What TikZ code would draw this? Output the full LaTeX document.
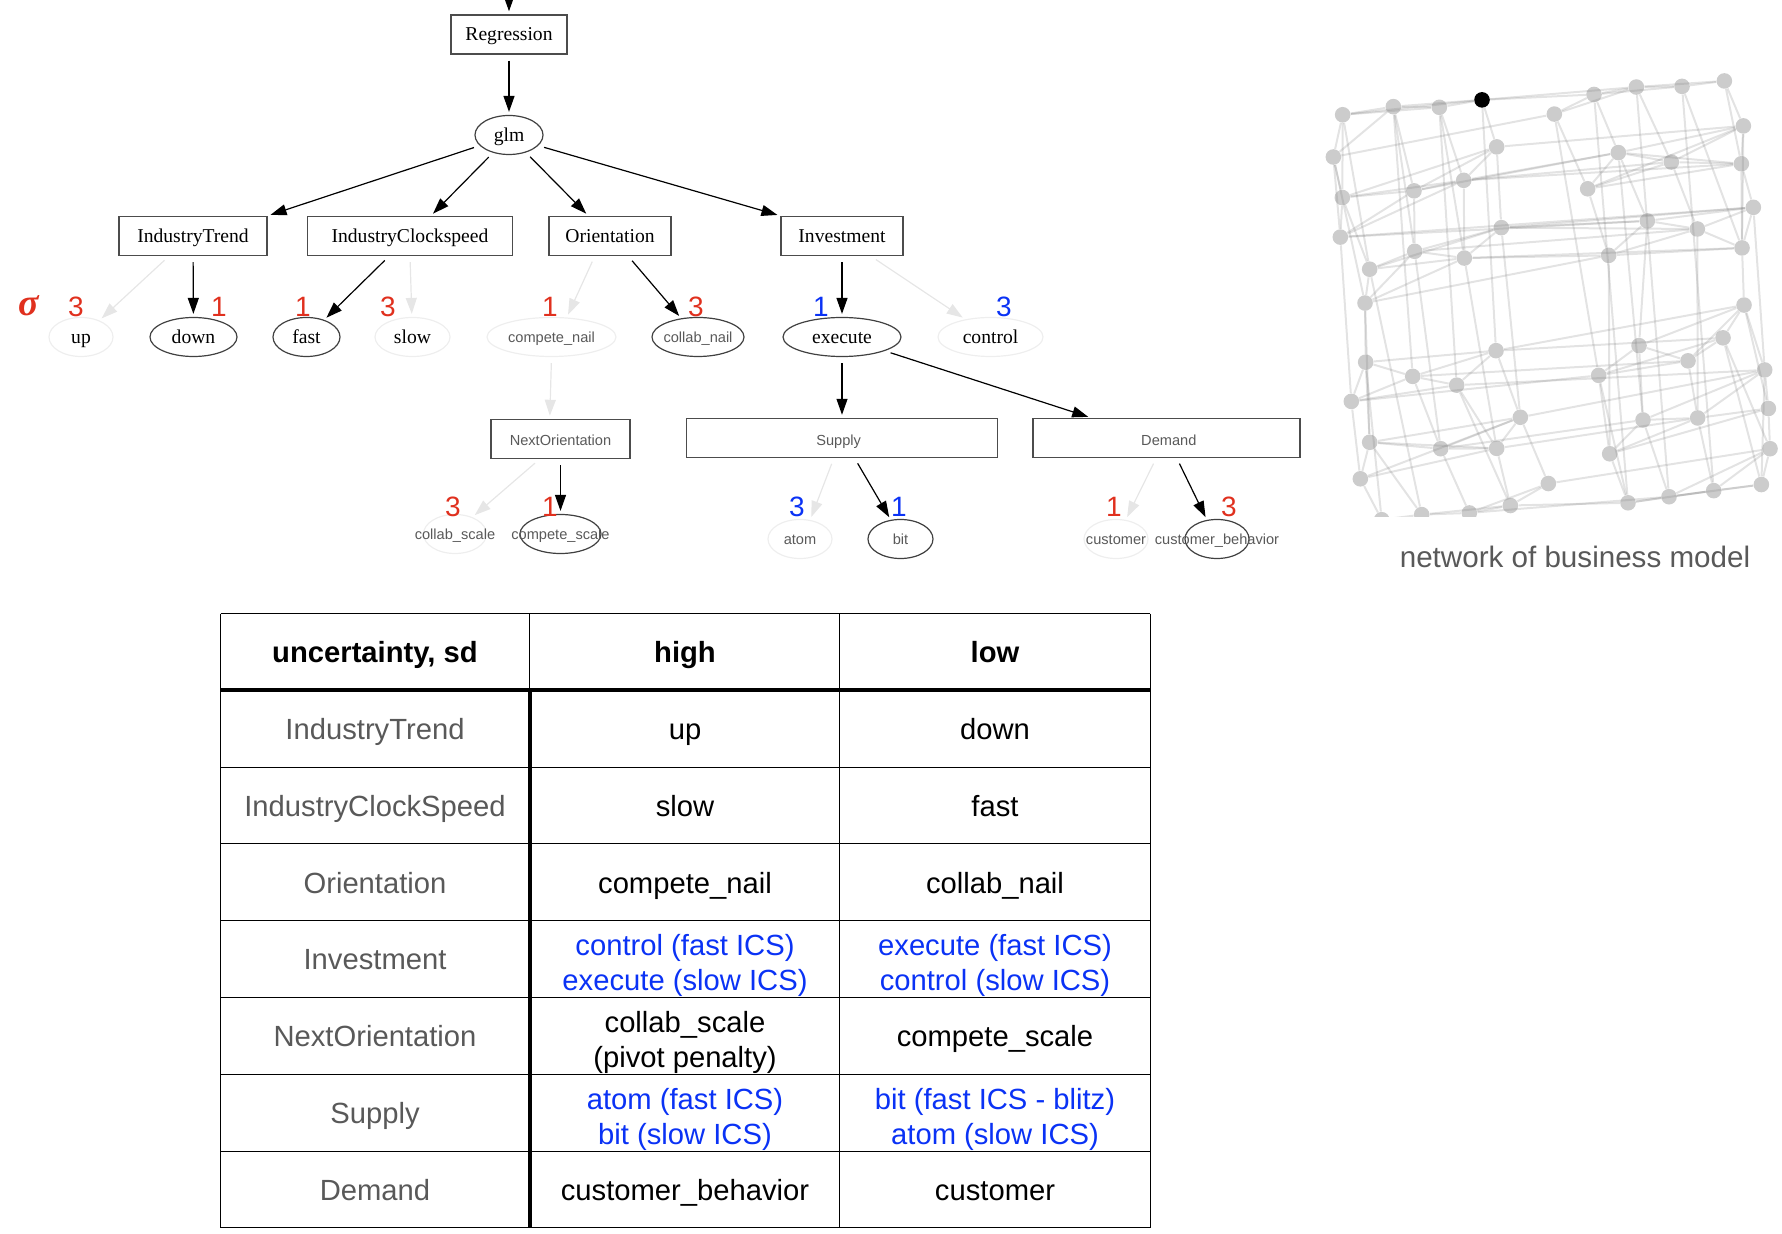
\documentclass[tikz,border=0pt]{standalone}
\usepackage{fontspec}
\setmainfont{Liberation Serif}
\setsansfont{Liberation Sans}
\usetikzlibrary{shapes.geometric, arrows.meta, positioning}
\definecolor{numred}{RGB}{224, 48, 30}
\definecolor{numblue}{RGB}{10, 50, 245}
\definecolor{headgray}{RGB}{89, 89, 89}
\definecolor{paleline}{RGB}{230, 230, 230}
\definecolor{paleoval}{RGB}{238, 238, 238}
\definecolor{netgray}{RGB}{204, 204, 204}
\newcommand{\tallrow}{\rule{0pt}{16.5pt}}
\begin{document}
\begin{tikzpicture}[
    x=0.5pt, y=-0.5pt,
    serifbig/.style={font=\fontsize{9.8}{11}\selectfont, text height=8.5pt, text depth=2pt},
    sanssmall/.style={font=\sffamily\fontsize{7.3}{9}\selectfont, text=headgray, text height=8pt, text depth=2pt},
    treebox/.style={draw=black!70, line width=0.7pt, inner sep=0pt, minimum height=19.5pt},
    oval/.style={ellipse, draw=#1, line width=0.6pt, inner sep=0pt, minimum height=19.5pt},
    oval/.default=black!75,
    link/.style={draw=#1, line width=0.6pt, shorten <=3pt, shorten >=1.5pt,
                 -{Triangle[length=8pt,width=5.5pt,fill=#1]}},
    link/.default=black,
    num/.style={text=#1, inner sep=0pt, font=\sffamily\fontsize{14}{14}\selectfont},
    cell/.style={text=#1, align=center, inner sep=0pt, font=\sffamily\fontsize{14.6}{17.5}\selectfont},
    cell/.default=black,
    gridline/.style={line width=0.5pt, draw=black},
    netnode/.style={circle, fill=netgray, inner sep=0pt, minimum size=7.8pt},
    netedge/.style={draw=gray, opacity=0.22, line width=1pt}
]
    \useasboundingbox (0,0) rectangle (1782,1234);

    \coordinate (topin) at (509,-4);
    \node[treebox, serifbig, minimum width=58pt] (regression) at (509,34.5) {Regression};
    \node[oval, serifbig, minimum width=34pt] (glm) at (509,135) {glm};

    \node[treebox, serifbig, minimum width=74pt] (trend) at (193,236) {IndustryTrend};
    \node[treebox, serifbig, minimum width=102.5pt] (clockspeed) at (410,236) {IndustryClockspeed};
    \node[treebox, serifbig, minimum width=61pt] (orientation) at (610,236) {Orientation};
    \node[treebox, serifbig, minimum width=61pt] (investment) at (842,236) {Investment};

    \node[oval=paleoval, serifbig, minimum width=32pt] (up) at (81,337) {up};
    \node[oval, serifbig, minimum width=43.5pt] (down) at (193.5,337) {down};
    \node[oval, serifbig, minimum width=33.5pt] (fast) at (306.5,337) {fast};
    \node[oval=paleoval, serifbig, minimum width=37.5pt] (slow) at (412.5,337) {slow};
    \node[oval=paleoval, sanssmall, minimum width=64.5pt] (competenail) at (551.5,337) {\makebox[0pt]{compete\_nail}};
    \node[oval, sanssmall, minimum width=46pt] (collabnail) at (698,337) {\makebox[0pt]{collab\_nail}};
    \node[oval, serifbig, minimum width=59pt] (execute) at (842,337) {execute};
    \node[oval=paleoval, serifbig, minimum width=52.5pt] (control) at (990.5,337) {control};

    \node[treebox, sanssmall, text height=9pt, minimum width=69.5pt] (nextorientation) at (560.5,439) {NextOrientation};
    \node[treebox, sanssmall, text height=9.5pt, minimum width=155.5pt] (supply) at (842,438) {\hspace*{-3.4pt}Supply};
    \node[treebox, sanssmall, text height=9.5pt, minimum width=133.5pt] (demand) at (1166.5,438) {\hspace*{2.3pt}Demand};

    \node[oval=paleoval, sanssmall, minimum width=31.5pt] (collabscale) at (455,534) {\makebox[0pt]{collab\_scale}};
    \node[oval, sanssmall, minimum width=40.5pt] (competescale) at (560.5,534) {\makebox[0pt]{compete\_scale}};
    \node[oval=paleoval, sanssmall, minimum width=32pt] (atom) at (800,539) {\makebox[0pt]{atom}};
    \node[oval, sanssmall, minimum width=32.5pt] (bit) at (900.5,539) {\makebox[0pt]{bit}};
    \node[oval=paleoval, sanssmall, minimum width=32pt] (customer) at (1116,539) {\makebox[0pt]{customer}};
    \node[oval, sanssmall, minimum width=32pt] (behavior) at (1217,539) {\makebox[0pt]{customer\_behavior}};

    \draw[link] (topin) -- (regression);
    \draw[link] (regression) -- (glm);
    \draw[link] (glm.200) -- (trend.north east);
    \draw[link] (glm.228) -- (clockspeed.44);
    \draw[link] (glm.314) -- (orientation.137);
    \draw[link] (glm.340) -- (investment.north west);
    \draw[link=paleline] (trend.220) -- (up.42);
    \draw[link] (trend) -- (down);
    \draw[link] (clockspeed.224) -- (fast.44);
    \draw[link=paleline] (clockspeed.south) -- (slow);
    \draw[link=paleline] (orientation.233) -- (competenail.52);
    \draw[link] (orientation.312) -- (collabnail.132);
    \draw[link] (investment) -- (execute);
    \draw[link=paleline] (investment.325) -- (control.145);
    \draw[link=paleline] (competenail.south) -- (nextorientation.118);
    \draw[link] (execute) -- (supply);
    \draw[link] (execute.342) -- (demand.165);
    \draw[link=paleline] (nextorientation.224) -- (collabscale.44);
    \draw[link] (nextorientation) -- (competescale);
    \draw[link=paleline] (supply.248) -- (atom.62);
    \draw[link] (supply.302) -- (bit.117);
    \draw[link=paleline] (demand.243) -- (customer.63);
    \draw[link] (demand.297) -- (behavior.118);

    \node[text=numred, inner sep=0pt, font=\itshape\bfseries\fontsize{19}{19}\selectfont] (sigma) at (29,306) {σ};
    \foreach \name/\ink/\xc/\yc/\val in {
        nup/numred/76/307/3, ndown/numred/219/307/1, nfast/numred/303/307/1, nslow/numred/388/307/3,
        ncompetenail/numred/550/307/1, ncollabnail/numred/696/307/3, nexecute/numblue/821/307/1,
        ncontrol/numblue/1004/307/3, ncollabscale/numred/453/507/3, ncompetescale/numred/550/507/1,
        natom/numblue/797/507/3, nbit/numblue/899/507/1, ncustomer/numred/1114/507/1, nbehavior/numred/1229/507/3}
        \node[num=\ink] (\name) at (\xc,\yc) {\val};

    \begin{scope}[shift={(655pt,-30pt)}, x=0.16667pt, y=-0.169pt]
        \clip (-100,-100) rectangle (1416,1350);
        \foreach \i/\xc/\yc in {
            1/98/162, 2/250/138, 3/388/140, 5/733/160, 6/852/102, 7/979/80, 8/1116/78, 9/1243/62,
            10/70/287, 11/560/257, 12/1300/195, 13/925/274, 14/1084/302, 15/1294/307,
            16/97/407, 17/312/387, 18/461/356, 19/833/381, 20/91/524, 21/574/496, 22/1012/476,
            23/1162/500, 24/1330/436, 25/314/566, 26/463/586, 27/179/619, 28/896/578, 29/1296/556,
            30/165/719, 31/1302/725, 32/558/860, 33/987/845, 34/1239/822, 35/167/894, 36/308/936,
            37/440/962, 38/866/933, 39/1134/890, 40/1364/917, 41/124/1010, 42/631/1057, 43/999/1065,
            44/1163/1059, 45/1375/1031, 46/179/1131, 47/392/1150, 48/560/1149, 49/899/1165,
            50/1380/1150, 51/151/1239, 52/715/1253, 53/1354/1256, 54/1211/1274, 55/1077/1292,
            56/954/1310, 57/601/1318, 58/478/1340, 59/335/1345, 60/215/1360}
            \node[netnode] (n\i) at (\xc,\yc) {};
        \node[netnode, fill=black] (n4) at (516,118) {};
        \foreach \a/\b in {
            1/2, 2/3, 3/4, 1/3, 2/4, 1/4, 4/6, 4/7, 5/6, 5/7, 6/7, 6/8, 7/8, 7/9, 8/9,
            1/10, 1/16, 1/27, 10/2, 10/5, 10/16, 10/20, 16/20, 10/30, 16/27,
            16/17, 16/18, 16/11, 17/18, 17/11, 18/11, 11/12, 17/13, 18/14, 18/15, 18/13,
            19/12, 19/13, 19/14, 19/15, 13/14, 13/15, 14/15, 13/12, 14/12,
            20/17, 20/18, 20/22, 20/24, 21/22, 21/23, 21/24, 22/23, 22/24, 23/24, 23/29,
            22/28, 23/28, 28/29, 26/29, 25/21, 25/26, 25/23, 26/21, 26/28, 27/25, 27/21, 27/26,
            30/25, 30/26, 30/28,
            2/17, 2/25, 2/36, 3/18, 3/37, 3/26, 4/11, 4/32, 11/21, 21/42, 18/26, 26/48, 17/25, 25/47,
            5/19, 5/38, 6/13, 6/56, 19/28, 28/49, 13/22, 13/43, 22/33, 7/14, 7/55, 14/23, 23/44,
            8/29, 8/54, 9/12, 9/15, 12/15, 15/29, 12/29, 24/29, 15/24, 29/31, 24/40, 31/40, 31/45,
            40/45, 45/50, 40/53, 50/53, 34/53, 34/50,
            20/41, 27/30, 30/35, 30/46, 27/59, 35/41, 35/46, 35/60, 41/51, 46/51, 51/60, 46/59,
            36/47, 47/58, 37/57, 37/48, 32/42, 42/52, 42/48, 48/57, 52/57, 52/58, 57/59, 58/59, 59/60,
            58/57, 57/56, 58/55, 56/55, 55/54, 54/53, 56/54, 55/53, 52/50, 51/42, 51/48,
            46/42, 46/47, 46/48, 47/42, 47/48, 47/43, 48/44, 42/40, 49/43, 49/44, 49/45, 43/44,
            43/40, 44/45, 44/40, 56/49, 43/55, 44/54, 54/50, 55/50,
            35/32, 35/36, 36/37, 36/32, 37/32, 41/36, 41/37, 41/38, 36/39, 37/40, 32/31, 32/34,
            38/33, 38/39, 38/34, 33/39, 33/31, 39/34, 39/31, 34/31, 33/43, 39/44, 38/49, 38/56}
            \draw[netedge] (n\a) -- (n\b);
    \end{scope}

    \node[text=headgray, inner sep=0pt, font=\sffamily\fontsize{14.8}{17}\selectfont] (caption) at (1575,557) {network of business model};

    \foreach \yl in {613.7, 767, 843, 920.6, 997.8, 1074, 1151, 1227.5}
        \draw[gridline] (220.5,\yl) -- (1150,\yl);
    \foreach \xl in {220.5, 839.9, 1150}
        \draw[gridline] (\xl,613.7) -- (\xl,1227.5);
    \draw[gridline] (529.6,613.7) -- (529.6,690);
    \draw[line width=2.4pt] (220.5,690) -- (1150,690);
    \draw[line width=2pt] (529.6,690) -- (529.6,1227.5);

    \node[cell, font=\sffamily\bfseries\fontsize{14.6}{17.5}\selectfont] (headname) at (375,656) {\strut uncertainty, sd};
    \node[cell, font=\sffamily\bfseries\fontsize{14.6}{17.5}\selectfont] (headhigh) at (685,656) {\strut high};
    \node[cell, font=\sffamily\bfseries\fontsize{14.6}{17.5}\selectfont] (headlow) at (995,656) {\strut low};
    \foreach \rowid/\yc/\ink/\head/\hi/\lo in {
        rtrend/733/black/IndustryTrend/up/down,
        rclock/809/black/IndustryClockSpeed/slow/fast,
        rorient/886/black/Orientation/compete\_nail/collab\_nail,
        rinvest/962/numblue/Investment/\tallrow control (fast ICS)\\execute (slow ICS)/\tallrow execute (fast ICS)\\control (slow ICS),
        rnext/1039/black/NextOrientation/\tallrow collab\_scale\\(pivot penalty)/compete\_scale,
        rsupply/1116/numblue/Supply/\tallrow atom (fast ICS)\\bit (slow ICS)/\tallrow bit (fast ICS - blitz)\\atom (slow ICS),
        rdemand/1193/black/Demand/customer\_behavior/customer} {
        \node[cell=headgray] (\rowid a) at (375,\yc) {\strut\head};
        \node[cell=\ink] (\rowid b) at (685,\yc) {\strut\hi\strut};
        \node[cell=\ink] (\rowid c) at (995,\yc) {\strut\lo\strut};
    }
\end{tikzpicture}
\end{document}
